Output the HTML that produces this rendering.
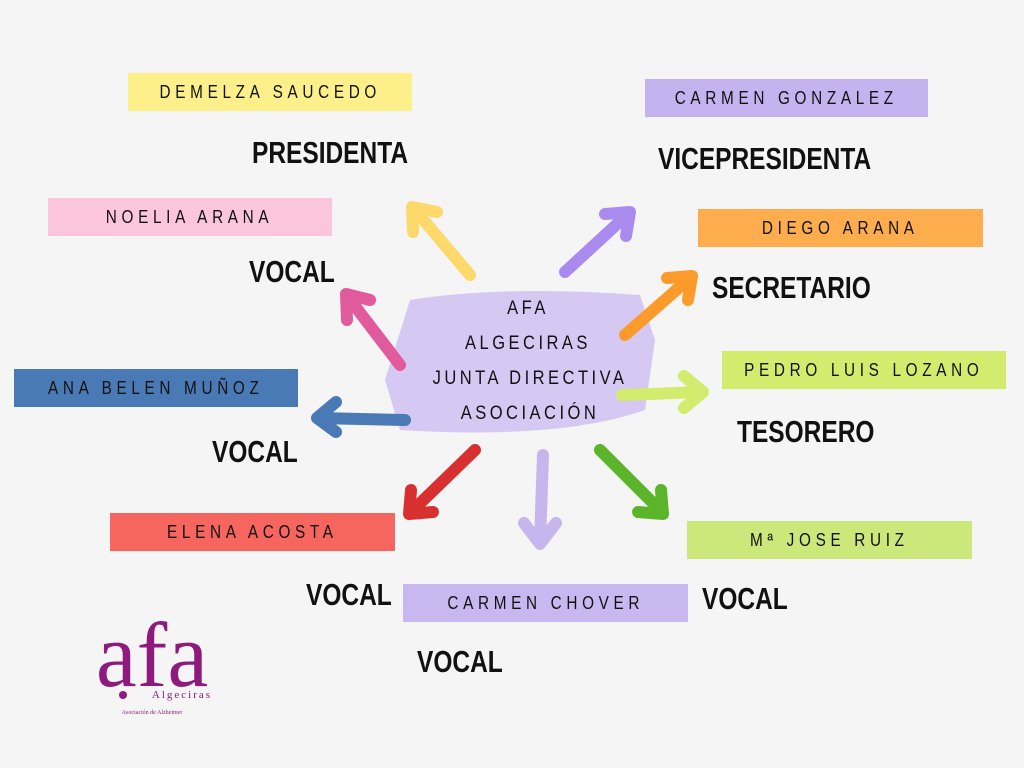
<!DOCTYPE html>
<html><head><meta charset="utf-8"><style>
body{margin:0;width:1024px;height:768px;background:#f5f5f5;position:relative;overflow:hidden;font-family:"Liberation Sans",sans-serif}
.b{position:absolute;height:38px;display:flex;align-items:center;justify-content:center;font-size:18px;color:#111;white-space:nowrap}
.b span{display:inline-block;letter-spacing:5.5px;transform:scaleX(.85)}
.r{position:absolute;font-weight:bold;font-size:31px;color:#111;transform:scaleX(.79);transform-origin:left;white-space:nowrap;line-height:1}
svg{position:absolute;left:0;top:0}
</style></head><body>
<svg width="1024" height="768">
<path d="M410 300 Q500 285 640 295 L655 340 L645 410 Q560 440 400 430 L385 380 Z" fill="#d5c9f3"/>
<g fill="none" stroke-width="12" stroke-linecap="round" stroke-linejoin="round">
<g stroke="#fcd96a"><line x1="470" y1="275" x2="415" y2="210"/><polyline points="413,232 412,207 437,212"/></g>
<g stroke="#a98bf0"><line x1="565" y1="272" x2="628" y2="214"/><polyline points="605,214 630,212 626,236"/></g>
<g stroke="#fc9a2c"><line x1="625" y1="335" x2="690" y2="278"/><polyline points="667,278 692,276 688,300"/></g>
<g stroke="#e05a9c"><line x1="400" y1="365" x2="348" y2="297"/><polyline points="347,320 346,294 370,300"/></g>
<g stroke="#d4ec6e"><line x1="622" y1="395" x2="702" y2="392"/><polyline points="684,376 703,392 684,408"/></g>
<g stroke="#4a7ab5"><line x1="405" y1="420" x2="318" y2="418"/><polyline points="336,402 317,418 336,432"/></g>
<g stroke="#d83030"><line x1="475" y1="450" x2="410" y2="513"/><polyline points="411,490 409,514 433,512"/></g>
<g stroke="#c7b5ee"><line x1="543" y1="455" x2="540" y2="542"/><polyline points="524,523 540,544 556,523"/></g>
<g stroke="#5bb52a"><line x1="600" y1="450" x2="662" y2="512"/><polyline points="638,512 663,514 661,490"/></g>
</g>
<g font-family="Liberation Sans, sans-serif" font-size="19" letter-spacing="4" fill="#111" text-anchor="middle">
<text x="528" y="314" transform="translate(528 0) scale(.87 1) translate(-528 0)">AFA</text>
<text x="528" y="349" transform="translate(528 0) scale(.87 1) translate(-528 0)">ALGECIRAS</text>
<text x="530" y="384" transform="translate(530 0) scale(.87 1) translate(-530 0)">JUNTA DIRECTIVA</text>
<text x="530" y="419" transform="translate(530 0) scale(.87 1) translate(-530 0)">ASOCIACIÓN</text>
</g>
<text x="152" y="686" text-anchor="middle" font-family="Liberation Serif, serif" font-size="92" fill="#8e1a7e">afa</text>
<circle cx="123" cy="695" r="4" fill="#8e1a7e"/>
<text x="182" y="698" text-anchor="middle" font-family="Liberation Serif, serif" font-size="11" letter-spacing="2" fill="#8e1a7e">Algeciras</text>
<text x="152" y="714" text-anchor="middle" font-family="Liberation Serif, serif" font-size="6" fill="#8e1a7e">Asociación de Alzheimer</text>
</svg>
<div class="b" style="left:128px;top:73px;width:284px;background:#fdf08a"><span>DEMELZA SAUCEDO</span></div>
<div class="b" style="left:645px;top:79px;width:283px;background:#c5b3f0"><span>CARMEN GONZALEZ</span></div>
<div class="b" style="left:48px;top:198px;width:284px;background:#fbc6dc"><span>NOELIA ARANA</span></div>
<div class="b" style="left:698px;top:209px;width:285px;background:#fdad4e"><span>DIEGO ARANA</span></div>
<div class="b" style="left:14px;top:369px;width:284px;background:#4a7ab5"><span>ANA BELEN MUÑOZ</span></div>
<div class="b" style="left:722px;top:351px;width:284px;background:#d4ec6e"><span>PEDRO LUIS LOZANO</span></div>
<div class="b" style="left:110px;top:513px;width:285px;background:#f7655f"><span>ELENA ACOSTA</span></div>
<div class="b" style="left:687px;top:521px;width:285px;background:#cde87a"><span>Mª JOSE RUIZ</span></div>
<div class="b" style="left:403px;top:584px;width:285px;background:#c9b8f0"><span>CARMEN CHOVER</span></div>
<div class="r" style="left:252px;top:137px">PRESIDENTA</div>
<div class="r" style="left:658px;top:143px">VICEPRESIDENTA</div>
<div class="r" style="left:249px;top:256px">VOCAL</div>
<div class="r" style="left:712px;top:272px">SECRETARIO</div>
<div class="r" style="left:212px;top:436px">VOCAL</div>
<div class="r" style="left:737px;top:416px">TESORERO</div>
<div class="r" style="left:306px;top:579px">VOCAL</div>
<div class="r" style="left:702px;top:583px">VOCAL</div>
<div class="r" style="left:417px;top:646px">VOCAL</div>
</body></html>
